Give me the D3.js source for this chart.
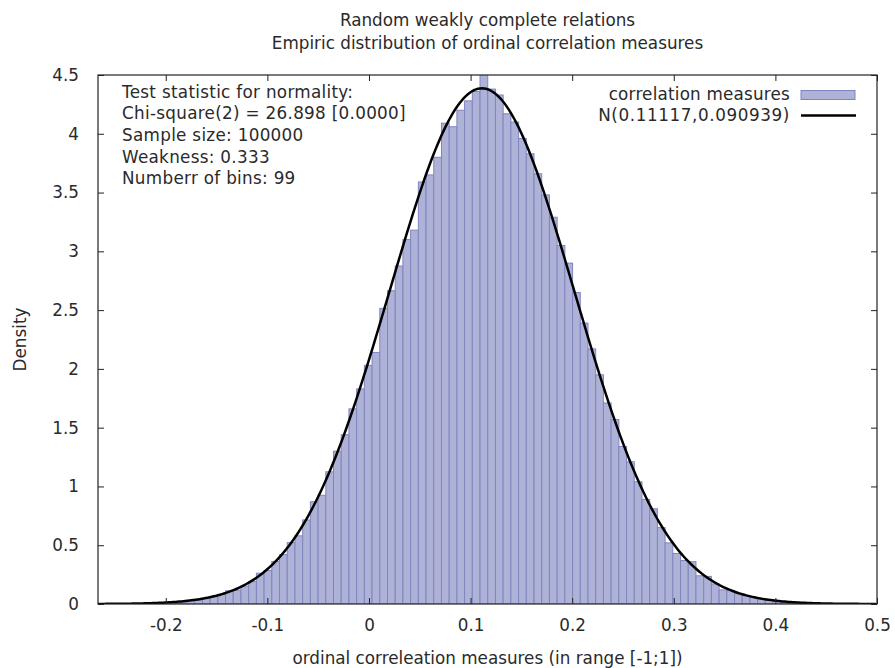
<html lang="en">

<head>
  <meta charset="utf-8" />
  <script src="https://d3js.org/d3.v7.min.js"></script>
  <style>
    body { margin: 0; background: white; }
    text { font-family: "DejaVu Sans", sans-serif; fill: #2a2a2a; }
  </style>
</head>

<body>
  <script>
    // histogram bins (density), bin k = 0 is the tallest one
    var binStart = 0.1093;      // left edge of the peak bin
    var binWidth = 0.00759;
    var binOffsets = d3.range(-49, 50);
    var densities = [
      0.001, 0.001, 0.002, 0.002, 0.003, 0.004, 0.006,          // -49 .. -43
      0.008, 0.010, 0.015, 0.020, 0.028, 0.035, 0.048, 0.062,  // -42 .. -35
      0.080, 0.112, 0.118, 0.152, 0.190, 0.262, 0.285, 0.362,  // -34 .. -27
      0.420, 0.522, 0.580, 0.715, 0.870, 0.925, 1.125, 1.300,  // -26 .. -19
      1.440, 1.660, 1.830, 2.030, 2.140, 2.515, 2.665, 2.875,  // -18 .. -11
      3.100, 3.180, 3.590, 3.650, 3.800, 4.090, 4.060, 4.200,  // -10 .. -3
      4.280, 4.360, 4.520, 4.380, 4.330, 4.170, 4.100, 3.960,  // -2 .. 5
      3.830, 3.660, 3.480, 3.290, 3.050, 2.900, 2.650, 2.390,  // 6 .. 13
      2.170, 1.950, 1.710, 1.570, 1.340, 1.210, 1.040, 0.890,  // 14 .. 21
      0.810, 0.650, 0.520, 0.430, 0.370, 0.360, 0.240, 0.235,  // 22 .. 29
      0.170, 0.120, 0.115, 0.090, 0.072, 0.055, 0.043, 0.032,  // 30 .. 37
      0.025, 0.018, 0.013, 0.009, 0.006, 0.004, 0.003, 0.002,  // 38 .. 45
      0.002, 0.001, 0.001, 0.001                               // 46 .. 49
    ];

    // fitted normal from the legend
    var fitMean = 0.11117;
    var fitSd = 0.090939;

    var xTicks = [-0.2, -0.1, 0, 0.1, 0.2, 0.3, 0.4, 0.5];
    var yTicks = [0, 0.5, 1, 1.5, 2, 2.5, 3, 3.5, 4, 4.5];

    var titleLines = ["Random weakly complete relations",
                      "Empiric distribution of ordinal correlation measures"];
    var noteLines = ["Test statistic for normality:",
                     "Chi-square(2) = 26.898 [0.0000]",
                     "Sample size: 100000",
                     "Weakness: 0.333",
                     "Numberr of bins: 99"];
    var legendLabels = ["correlation measures", "N(0.11117,0.090939)"];

    var bins = binOffsets.map(function (k, i) {
      return { left: binStart + k * binWidth, d: densities[i] };
    });

    var W = 895, H = 668;
    // plot box (don't call these top/left: window.top is read only)
    var pLeft = 98, pRight = 877, pTop = 75, pBottom = 604;
    var fontSize = 16.8;
    var barFill = "#afb2d7", barEdge = "#8085c1";

    var svg = d3.select("body")
      .append("svg")
      .attr("width", W)
      .attr("height", H);

    var x = d3.scaleLinear().domain([-0.2667, 0.5]).range([pLeft, pRight]);
    var y = d3.scaleLinear().domain([0, 4.5]).range([pBottom, pTop]);

    svg.append("clipPath").attr("id", "plotclip")
      .append("rect")
      .attr("x", pLeft).attr("y", pTop)
      .attr("width", pRight - pLeft).attr("height", pBottom - pTop);

    var plot = svg.append("g").attr("clip-path", "url(#plotclip)");

    // bars
    plot.selectAll("rect.bar")
      .data(bins)
      .join("rect")
      .attr("class", "bar")
      .attr("x", function (d) { return x(d.left); })
      .attr("y", function (d) { return y(d.d); })
      .attr("width", function (d) { return x(d.left + binWidth) - x(d.left); })
      .attr("height", function (d) { return y(0) - y(d.d); })
      .attr("fill", barFill)
      .attr("stroke", barEdge)
      .attr("stroke-width", 1);

    // normal density curve
    var curveXs = d3.range(-0.2667, 0.5001, 0.002);
    var normal = function (v) {
      var z = (v - fitMean) / fitSd;
      return Math.exp(-0.5 * z * z) / (fitSd * Math.sqrt(2 * Math.PI));
    };
    plot.append("path")
      .datum(curveXs)
      .attr("fill", "none")
      .attr("stroke", "black")
      .attr("stroke-width", 2.5)
      .attr("d", d3.line()
        .x(function (v) { return x(v); })
        .y(function (v) { return y(normal(v)); }));

    // frame
    svg.append("rect")
      .attr("x", pLeft).attr("y", pTop)
      .attr("width", pRight - pLeft).attr("height", pBottom - pTop)
      .attr("fill", "none")
      .attr("stroke", "#222")
      .attr("stroke-width", 1.2);

    // axes, inward ticks, mirrored on top and right
    var tickLen = 6;
    svg.append("g")
      .attr("transform", "translate(0," + pBottom + ")")
      .call(d3.axisBottom(x).tickValues(xTicks).tickSize(-tickLen).tickPadding(15)
        .tickFormat(function (d) { return d; }))
      .call(function (g) { g.select(".domain").remove(); });
    svg.append("g")
      .attr("transform", "translate(0," + pTop + ")")
      .call(d3.axisTop(x).tickValues(xTicks).tickSize(-tickLen).tickFormat(""))
      .call(function (g) { g.select(".domain").remove(); });
    svg.append("g")
      .attr("transform", "translate(" + pLeft + ",0)")
      .call(d3.axisLeft(y).tickValues(yTicks).tickSize(-tickLen).tickPadding(19)
        .tickFormat(function (d) { return d; }))
      .call(function (g) { g.select(".domain").remove(); });
    svg.append("g")
      .attr("transform", "translate(" + pRight + ",0)")
      .call(d3.axisRight(y).tickValues(yTicks).tickSize(-tickLen).tickFormat(""))
      .call(function (g) { g.select(".domain").remove(); });

    svg.selectAll(".tick line").attr("stroke", "#222");
    svg.selectAll(".tick text")
      .attr("font-family", "DejaVu Sans")
      .attr("font-size", fontSize)
      .attr("fill", "#2a2a2a");

    // titles
    svg.selectAll("text.title")
      .data(titleLines)
      .join("text")
      .attr("class", "title")
      .attr("x", (pLeft + pRight) / 2)
      .attr("y", function (d, i) { return 20 + i * 23; })
      .attr("dy", "0.35em")
      .attr("text-anchor", "middle")
      .attr("font-size", fontSize)
      .text(function (d) { return d; });

    svg.append("text")
      .attr("x", (pLeft + pRight) / 2)
      .attr("y", 658)
      .attr("dy", "0.35em")
      .attr("text-anchor", "middle")
      .attr("font-size", fontSize)
      .text("ordinal correleation measures (in range [-1;1])");

    svg.append("text")
      .attr("transform", "translate(20," + ((pTop + pBottom) / 2) + ") rotate(-90)")
      .attr("dy", "0.35em")
      .attr("text-anchor", "middle")
      .attr("font-size", fontSize)
      .text("Density");

    // note in upper left
    svg.selectAll("text.note")
      .data(noteLines)
      .join("text")
      .attr("class", "note")
      .attr("x", 122)
      .attr("y", function (d, i) { return 92 + i * 21.6; })
      .attr("dy", "0.35em")
      .attr("font-size", fontSize)
      .attr("letter-spacing", 0.3)
      .text(function (d) { return d; });

    // legend
    var legend = svg.append("g");
    legend.selectAll("text")
      .data(legendLabels)
      .join("text")
      .attr("x", 790)
      .attr("y", function (d, i) { return 94.5 + i * 21; })
      .attr("dy", "0.35em")
      .attr("text-anchor", "end")
      .attr("font-size", fontSize)
      .attr("letter-spacing", function (d, i) { return i == 1 ? 0.6 : 0.2; })
      .text(function (d) { return d; });
    legend.append("rect")
      .attr("x", 801).attr("y", 90.5)
      .attr("width", 54).attr("height", 9)
      .attr("fill", barFill)
      .attr("stroke", barEdge);
    legend.append("line")
      .attr("x1", 801).attr("x2", 856)
      .attr("y1", 115.5).attr("y2", 115.5)
      .attr("stroke", "black")
      .attr("stroke-width", 2.5);
  </script>
</body>

</html>
